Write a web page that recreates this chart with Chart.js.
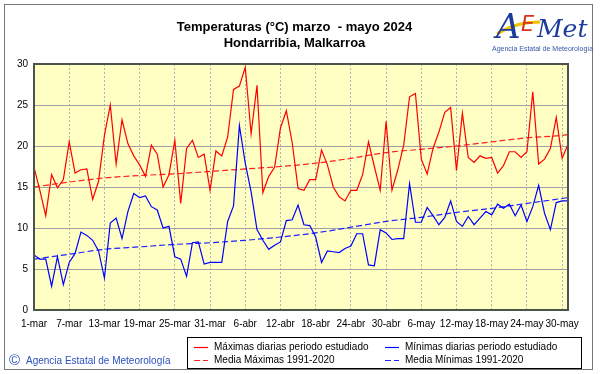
<!DOCTYPE html>
<html lang="es">
<head>
<meta charset="utf-8">
<title>Temperaturas marzo - mayo 2024 Hondarribia</title>
<script src="https://cdn.jsdelivr.net/npm/chart.js@4.4.1/dist/chart.umd.min.js"></script>
<style>
  html, body { margin: 0; padding: 0; background: #fff; }
  canvas { display: block; }
</style>
</head>
<body>
<canvas id="grafico" width="601" height="374"></canvas>
<script>
// Fechas: 1-mar a 31-may 2024
const meses = [['mar', 31], ['abr', 30], ['may', 31]];
const dias = [];
meses.forEach(([m, n]) => {
    for (let d = 1; d <= n; d++) dias.push(d + '-' + m);
});

// Máximas diarias (°C)
const maximas = [
    17.4, 14.6, 11.5, 16.5, 14.9, 15.9, 20.5, 16.7, 17.1, 17.2,
    13.5, 15.7, 21.3, 25.0, 17.8, 23.2, 20.3, 18.8, 17.7, 16.3,
    20.1, 19.0, 15.0, 16.5, 20.7, 13.0, 19.7, 20.7, 18.6, 19.0,
    14.6, 19.4, 18.8, 21.1, 26.9, 27.3, 29.6, 21.5, 27.4, 14.3,
    16.3, 17.4, 22.2, 24.3, 20.4, 14.8, 14.6, 15.9, 15.9, 19.5,
    17.7, 15.0, 13.8, 13.3, 14.6, 14.6, 16.5, 20.5, 17.5, 14.6,
    23.0, 14.6, 17.1, 20.1, 26.0, 26.4, 18.4, 16.6, 19.7, 21.7,
    24.1, 24.7, 17.0, 24.0, 18.6, 18.0, 18.8, 18.5, 18.6, 16.7,
    17.6, 19.3, 19.3, 18.6, 19.3, 26.6, 17.8, 18.4, 19.7, 23.5,
    18.5, 20.2
];

// Mínimas diarias (°C)
const minimas = [
    6.7, 6.2, 6.2, 2.9, 6.5, 3.1, 5.8, 6.9, 9.5, 9.1,
    8.5, 7.2, 3.9, 10.6, 11.2, 8.7, 12.0, 14.2, 13.7, 13.9,
    12.6, 12.2, 10.0, 10.2, 6.5, 6.2, 4.1, 8.2, 8.3, 5.6,
    5.8, 5.8, 5.8, 10.8, 12.7, 22.5, 17.9, 14.4, 9.8, 8.5,
    7.4, 7.9, 8.3, 10.9, 11.0, 12.8, 10.4, 10.3, 8.9, 5.8,
    7.2, 7.1, 7.0, 7.5, 7.8, 9.3, 9.3, 5.5, 5.4, 9.8,
    9.4, 8.6, 8.7, 8.7, 15.4, 10.7, 10.7, 12.5, 11.5, 10.4,
    11.3, 13.3, 10.8, 10.2, 11.4, 10.4, 11.2, 12.0, 11.6, 12.9,
    12.4, 12.9, 11.5, 12.8, 10.8, 12.6, 15.2, 11.8, 9.8, 13.1,
    13.3, 13.3
];

const fechasMedia = ['1-mar', '7-mar', '13-mar', '19-mar', '25-mar', '31-mar', '6-abr', '12-abr',
    '18-abr', '24-abr', '30-abr', '6-may', '12-may', '18-may', '24-may', '30-may', '31-may'];
const mediaMaximas = [15.0, 15.6, 16.1, 16.4, 16.6, 16.9, 17.2, 17.5, 17.9, 18.5, 19.2, 19.6, 20.0, 20.5, 21.0, 21.3, 21.4];
const mediaMinimas = [6.2, 6.8, 7.4, 7.7, 8.0, 8.2, 8.5, 8.9, 9.4, 10.1, 10.8, 11.3, 11.9, 12.4, 13.0, 13.6, 13.7];

// Eje Y
const ticksY = [0, 5, 10, 15, 20, 25, 30];

const serie = valores => valores.map((v, i) => ({ x: i, y: v }));
const serieMedia = valores => valores.map((v, i) => ({ x: dias.indexOf(fechasMedia[i]), y: v }));

const FUENTE = '"Liberation Sans", Arial, sans-serif';

// Fondo, marco, título, logo, leyenda y pie
const decoracion = {
    id: 'decoracion',
    beforeDraw(chart) {
        const { ctx, chartArea: a } = chart;
        ctx.save();
        ctx.fillStyle = '#fff';
        ctx.fillRect(0, 0, chart.width, chart.height);
        ctx.fillStyle = '#ffffc4';
        ctx.fillRect(a.left, a.top, a.right - a.left, a.bottom - a.top);
        ctx.restore();
    },
    afterDraw(chart) {
        const { ctx, chartArea: a } = chart;
        ctx.save();

        // Marco del área de datos
        ctx.strokeStyle = '#4b544b';
        ctx.lineWidth = 2;
        ctx.strokeRect(a.left, a.top, a.right - a.left, a.bottom - a.top);

        // Marco exterior
        ctx.strokeStyle = '#777';
        ctx.lineWidth = 1;
        ctx.strokeRect(4.5, 4.5, 588, 365);

        // Título
        ctx.fillStyle = '#000';
        ctx.textAlign = 'center';
        ctx.textBaseline = 'middle';
        ctx.font = 'bold 13px ' + FUENTE;
        ctx.fillText('Temperaturas (°C) marzo  - mayo 2024', 294.5, 27);
        ctx.fillText('Hondarribia, Malkarroa', 294.5, 43);

        // Logo AEMet
        ctx.textAlign = 'left';
        ctx.textBaseline = 'alphabetic';
        ctx.strokeStyle = '#f2c200';
        ctx.lineWidth = 3;
        ctx.beginPath();
        ctx.moveTo(497, 34);
        ctx.quadraticCurveTo(515, 22, 540, 22);
        ctx.stroke();
        ctx.fillStyle = '#1c3c9c';
        ctx.font = 'italic 34px "DejaVu Serif", serif';
        ctx.fillText('A', 496, 38);
        ctx.fillStyle = '#d8321e';
        ctx.font = 'italic 21px "DejaVu Sans", sans-serif';
        ctx.fillText('E', 521, 31);
        ctx.fillStyle = '#1c3c9c';
        ctx.font = 'italic 25px "DejaVu Serif", serif';
        ctx.fillText('Met', 537, 37);
        ctx.fillStyle = '#3555a8';
        ctx.font = '7px ' + FUENTE;
        ctx.fillText('Agencia Estatal de Meteorología', 492, 51);

        // Pie
        ctx.fillStyle = '#2a50bf';
        ctx.textBaseline = 'middle';
        ctx.font = '15px ' + FUENTE;
        ctx.fillText('©', 9, 361);
        ctx.font = '10px ' + FUENTE;
        ctx.fillText('Agencia Estatal de Meteorología', 26, 361);

        // Leyenda
        ctx.strokeStyle = '#000';
        ctx.lineWidth = 1;
        ctx.strokeRect(187.5, 337.5, 394, 31);
        const posiciones = [[194, 347], [385, 347], [194, 360], [385, 360]];
        chart.data.datasets.forEach((ds, i) => {
            const [x, y] = posiciones[i];
            ctx.strokeStyle = ds.borderColor;
            ctx.lineWidth = 1.2;
            ctx.setLineDash(ds.borderDash || []);
            ctx.beginPath();
            ctx.moveTo(x, y + 0.5);
            ctx.lineTo(x + 14, y + 0.5);
            ctx.stroke();
            ctx.setLineDash([]);
            ctx.fillStyle = '#000';
            ctx.font = '10px ' + FUENTE;
            ctx.fillText(ds.label, x + 20, y);
        });

        ctx.restore();
    }
};

new Chart(document.getElementById('grafico'), {
    type: 'line',
    data: {
        datasets: [
            {
                label: 'Máximas diarias periodo estudiado',
                data: serie(maximas),
                borderColor: '#ff0000',
                borderWidth: 1.2
            },
            {
                label: 'Mínimas diarias periodo estudiado',
                data: serie(minimas),
                borderColor: '#0000ff',
                borderWidth: 1.2
            },
            {
                label: 'Media Máximas 1991-2020',
                data: serieMedia(mediaMaximas),
                borderColor: '#ff2020',
                borderWidth: 1.2,
                borderDash: [6, 3],
                cubicInterpolationMode: 'monotone'
            },
            {
                label: 'Media Mínimas 1991-2020',
                data: serieMedia(mediaMinimas),
                borderColor: '#2020ff',
                borderWidth: 1.2,
                borderDash: [6, 3],
                cubicInterpolationMode: 'monotone'
            }
        ]
    },
    options: {
        responsive: false,
        animation: false,
        devicePixelRatio: 1,
        layout: { padding: { left: 4, right: 33, top: 64, bottom: 44 } },
        elements: { point: { radius: 0 }, line: { tension: 0 } },
        plugins: {
            legend: { display: false },
            title: { display: false },
            tooltip: { enabled: false }
        },
        scales: {
            x: {
                type: 'linear',
                min: 0,
                max: dias.length - 1,
                afterBuildTicks: eje => {
                    // una marca cada 6 días: 1-mar, 7-mar, ... 30-may
                    eje.ticks = dias.map((d, i) => ({ value: i })).filter(t => t.value % 6 === 0);
                },
                afterFit: eje => { eje.height = 20; },
                ticks: {
                    autoSkip: false,
                    maxRotation: 0,
                    padding: 8,
                    color: '#000',
                    font: { family: FUENTE, size: 10 },
                    callback: v => dias[v] || ''
                },
                grid: { color: '#b4b4b4', drawTicks: false, lineWidth: 1 },
                border: { display: false, dash: [2, 2] }
            },
            y: {
                min: 0,
                max: 30,
                afterBuildTicks: eje => {
                    eje.ticks = ticksY.map(v => ({ value: v }));
                },
                afterFit: eje => { eje.width = 30; },
                ticks: {
                    padding: 6,
                    color: '#000',
                    font: { family: FUENTE, size: 10 }
                },
                grid: { color: '#a0a0a8', drawTicks: false, lineWidth: 1 },
                border: { display: false }
            }
        }
    },
    plugins: [decoracion]
});
</script>
</body>
</html>
